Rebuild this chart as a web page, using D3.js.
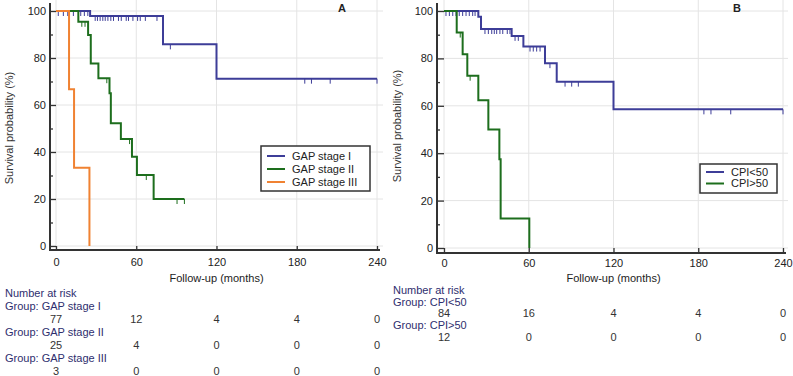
<!DOCTYPE html>
<html>
<head>
<meta charset="utf-8">
<script src="https://cdn.jsdelivr.net/npm/d3@7"></script>
<style>
  body { margin: 0; background: #fff; }
  text { font-family: Arial, "Liberation Sans", sans-serif; }
</style>
</head>
<body>
<div id="wrapper"></div>
<script>
// ---- values ----
const xTicks = [0, 60, 120, 180, 240]
const yTicks = [0, 20, 40, 60, 80, 100]
const yMinorTicks = [10, 30, 50, 70, 90]

// Panel A : GAP stage. step times (months) and survival (%) from that time on
const gapITimes = [0, 25.5, 80, 120]
const gapISurv = [100, 97.9, 85.8, 71.2]
const gapIEnd = 240
const gapICensor = [1.7, 5.5, 8.8, 13, 18.5, 21.2, 23.8, 29.3, 31, 33, 35, 36.8, 38.8, 41, 43,
                    46.7, 48.8, 52.5, 54.2, 57.5, 61, 63, 66.8, 75.5, 85.5, 186, 191, 205, 240]

const gapIITimes = [0, 16.7, 24, 26, 31.7, 40, 41, 48.5, 56.8, 60.5, 73]
const gapIISurv = [100, 95.4, 89.8, 77.7, 71.4, 65, 52.2, 45.5, 38, 30.2, 20]
const gapIIEnd = 96
const gapIICensor = [19.3, 21.7, 38, 55, 67.5, 90.5, 96]

const gapIIITimes = [0, 9.75, 13.5, 25]
const gapIIISurv = [100, 66.7, 33.3, 0]
const gapIIIEnd = 25
const gapIIICensor = []

// Panel B : CPI
const cpiLowTimes = [0, 24.3, 26.2, 47.9, 56.2, 71.5, 79.8, 120]
const cpiLowSurv = [100, 97.6, 92.4, 89.5, 85, 78, 70.2, 58.5]
const cpiLowEnd = 240
const cpiLowCensor = [1.4, 3.8, 6.2, 8.5, 10.8, 13.2, 15.6, 17.9, 20.3, 22,
                      29, 31.4, 33.8, 35.6, 37.3, 39.6, 41.6, 44.8, 46.7, 50.3, 52.6,
                      60.9, 63.2, 65.6, 68, 75, 85.7, 90.4, 95.1, 184, 189, 203, 240]

const cpiHighTimes = [0, 9, 13.2, 16.5, 24.3, 31.4, 39.2, 40.1, 60.4]
const cpiHighSurv = [100, 90.9, 81.8, 72.7, 62.3, 50, 37.5, 12.5, 0]
const cpiHighEnd = 60.4
const cpiHighCensor = [11.5, 18.5]

// number at risk
const riskGapI = [77, 12, 4, 4, 0]
const riskGapII = [25, 4, 0, 0, 0]
const riskGapIII = [3, 0, 0, 0, 0]
const riskCpiLow = [84, 16, 4, 4, 0]
const riskCpiHigh = [12, 0, 0, 0, 0]

const blue = "#3d3d98"
const green = "#1d6e1d"
const orange = "#f08232"

const svg = d3.select("#wrapper")
    .append("svg")
    .attr("width", 793)
    .attr("height", 376)

function makeCurve(name, times, surv, end, censor, color, risk) {
    return {name, times, surv, end, censor, color, risk}
}

function drawPanel(p) {
    const xScale = d3.scaleLinear().domain([0, 240]).range(p.xRange)
    const yScale = d3.scaleLinear().domain([0, 100]).range(p.yRange)
    const g = svg.append("g")

    // grid
    g.append("g").selectAll("line.v").data(xTicks).join("line")
        .attr("x1", d => xScale(d)).attr("x2", d => xScale(d))
        .attr("y1", 0).attr("y2", p.axisY)
        .attr("stroke", "#e4e4e4")
    g.append("g").selectAll("line.h").data(yTicks).join("line")
        .attr("x1", p.axisX).attr("x2", p.gridRight)
        .attr("y1", d => yScale(d)).attr("y2", d => yScale(d))
        .attr("stroke", "#e4e4e4")

    // curves
    const line = d3.line()
        .x(d => xScale(d[0]))
        .y(d => yScale(d[1]))
        .curve(d3.curveStepAfter)

    p.curves.forEach(c => {
        const pts = c.times.map((t, i) => [t, c.surv[i]])
        pts.push([c.end, c.surv[c.surv.length - 1]])
        g.append("path")
            .attr("d", line(pts))
            .attr("fill", "none")
            .attr("stroke", c.color)
            .attr("stroke-width", 2)

        const survAt = t => c.surv[d3.bisectRight(c.times, t) - 1]
        g.append("g").selectAll("line").data(c.censor).join("line")
            .attr("x1", d => xScale(d)).attr("x2", d => xScale(d))
            .attr("y1", d => yScale(survAt(d)))
            .attr("y2", d => yScale(survAt(d)) + 5)
            .attr("stroke", c.color)
            .attr("stroke-width", 1)
    })

    // axes
    const yAxis = g.append("g")
        .attr("transform", `translate(${p.axisX},0)`)
        .call(d3.axisLeft(yScale).tickValues(yTicks).tickSize(-(xScale(0) - p.axisX)).tickPadding(4))
    const yMinor = g.append("g")
        .attr("transform", `translate(${p.axisX},0)`)
        .call(d3.axisLeft(yScale).tickValues(yMinorTicks).tickSize(-3).tickFormat(""))
    const xAxis = g.append("g")
        .attr("transform", `translate(0,${p.axisY})`)
        .call(d3.axisBottom(xScale).tickValues(xTicks).tickSize(-(p.axisY - yScale(0))).tickPadding(p.xLabelPad))

    ;[yAxis, yMinor, xAxis].forEach(a => {
        a.select(".domain").remove()
        a.attr("font-size", 11).attr("font-family", "Arial, 'Liberation Sans', sans-serif")
        a.selectAll("line").attr("stroke", "#333").attr("stroke-width", 1.3)
        a.selectAll("text").attr("fill", "#222")
    })

    g.append("line")
        .attr("x1", p.axisX).attr("x2", p.axisX)
        .attr("y1", 3).attr("y2", p.axisY + 1)
        .attr("stroke", "#333").attr("stroke-width", 2)
    g.append("line")
        .attr("x1", p.axisX - 1).attr("x2", p.xRange[1] + 3)
        .attr("y1", p.axisY).attr("y2", p.axisY)
        .attr("stroke", "#333").attr("stroke-width", 2)

    // titles
    g.append("text")
        .attr("transform", `translate(${p.yTitleX},${p.yTitleY}) rotate(-90)`)
        .attr("text-anchor", "middle")
        .attr("font-size", 11)
        .attr("fill", "#333")
        .text("Survival probability (%)")
    g.append("text")
        .attr("x", (p.xRange[0] + p.xRange[1]) / 2)
        .attr("y", 282)
        .attr("text-anchor", "middle")
        .attr("font-size", 11)
        .attr("fill", "#222")
        .text("Follow-up (months)")
    g.append("text")
        .attr("x", p.letterX)
        .attr("y", 12)
        .attr("text-anchor", "middle")
        .attr("font-size", 11)
        .attr("font-weight", "bold")
        .attr("fill", "#222")
        .text(p.letter)

    // legend
    const lg = g.append("g")
    lg.append("rect")
        .attr("x", p.legend.x).attr("y", p.legend.y)
        .attr("width", p.legend.w).attr("height", p.legend.h)
        .attr("fill", "#fff").attr("stroke", "#333").attr("stroke-width", 1.5)
    p.curves.forEach((c, i) => {
        const cy = p.legend.y + p.legend.first + i * p.legend.step
        lg.append("line")
            .attr("x1", p.legend.x + 6).attr("x2", p.legend.x + 24)
            .attr("y1", cy).attr("y2", cy)
            .attr("stroke", c.color).attr("stroke-width", 2)
        lg.append("text")
            .attr("x", p.legend.x + 31).attr("y", cy)
            .attr("dy", "0.35em")
            .attr("font-size", 11)
            .attr("fill", "#222")
            .text(c.name)
    })

    // number at risk
    const rk = g.append("g").attr("font-size", 11)
    let row = 0
    const rowY = () => p.riskTop + row * p.riskStep
    rk.append("text").attr("x", p.riskX).attr("y", rowY())
        .attr("fill", "#2e2e6e").text("Number at risk")
    p.curves.forEach(c => {
        row++
        rk.append("text").attr("x", p.riskX).attr("y", rowY())
            .attr("fill", "#2e2e6e").text("Group: " + c.name)
        row++
        const y = rowY()
        rk.append("g").selectAll("text").data(c.risk).join("text")
            .attr("x", (d, i) => xScale(xTicks[i]))
            .attr("y", y)
            .attr("text-anchor", "middle")
            .attr("fill", "#333")
            .text(d => d)
    })
}

drawPanel({
    letter: "A", letterX: 342,
    axisX: 50, axisY: 250, xRange: [56, 377], yRange: [246, 11], gridRight: 383,
    xLabelPad: 8, yTitleX: 13, yTitleY: 128,
    legend: {x: 261, y: 146, w: 109, h: 45, first: 10, step: 13},
    riskX: 5, riskTop: 296.5, riskStep: 13.1,
    curves: [
        makeCurve("GAP stage I", gapITimes, gapISurv, gapIEnd, gapICensor, blue, riskGapI),
        makeCurve("GAP stage II", gapIITimes, gapIISurv, gapIIEnd, gapIICensor, green, riskGapII),
        makeCurve("GAP stage III", gapIIITimes, gapIIISurv, gapIIIEnd, gapIIICensor, orange, riskGapIII)
    ]
})

drawPanel({
    letter: "B", letterX: 737,
    axisX: 437, axisY: 253, xRange: [444, 783], yRange: [248, 11], gridRight: 788,
    xLabelPad: 6, yTitleX: 401, yTitleY: 126,
    legend: {x: 700, y: 164, w: 77, h: 29, first: 8, step: 11.5},
    riskX: 393, riskTop: 294, riskStep: 11.7,
    curves: [
        makeCurve("CPI<50", cpiLowTimes, cpiLowSurv, cpiLowEnd, cpiLowCensor, blue, riskCpiLow),
        makeCurve("CPI>50", cpiHighTimes, cpiHighSurv, cpiHighEnd, cpiHighCensor, green, riskCpiHigh)
    ]
})
</script>
</body>
</html>
